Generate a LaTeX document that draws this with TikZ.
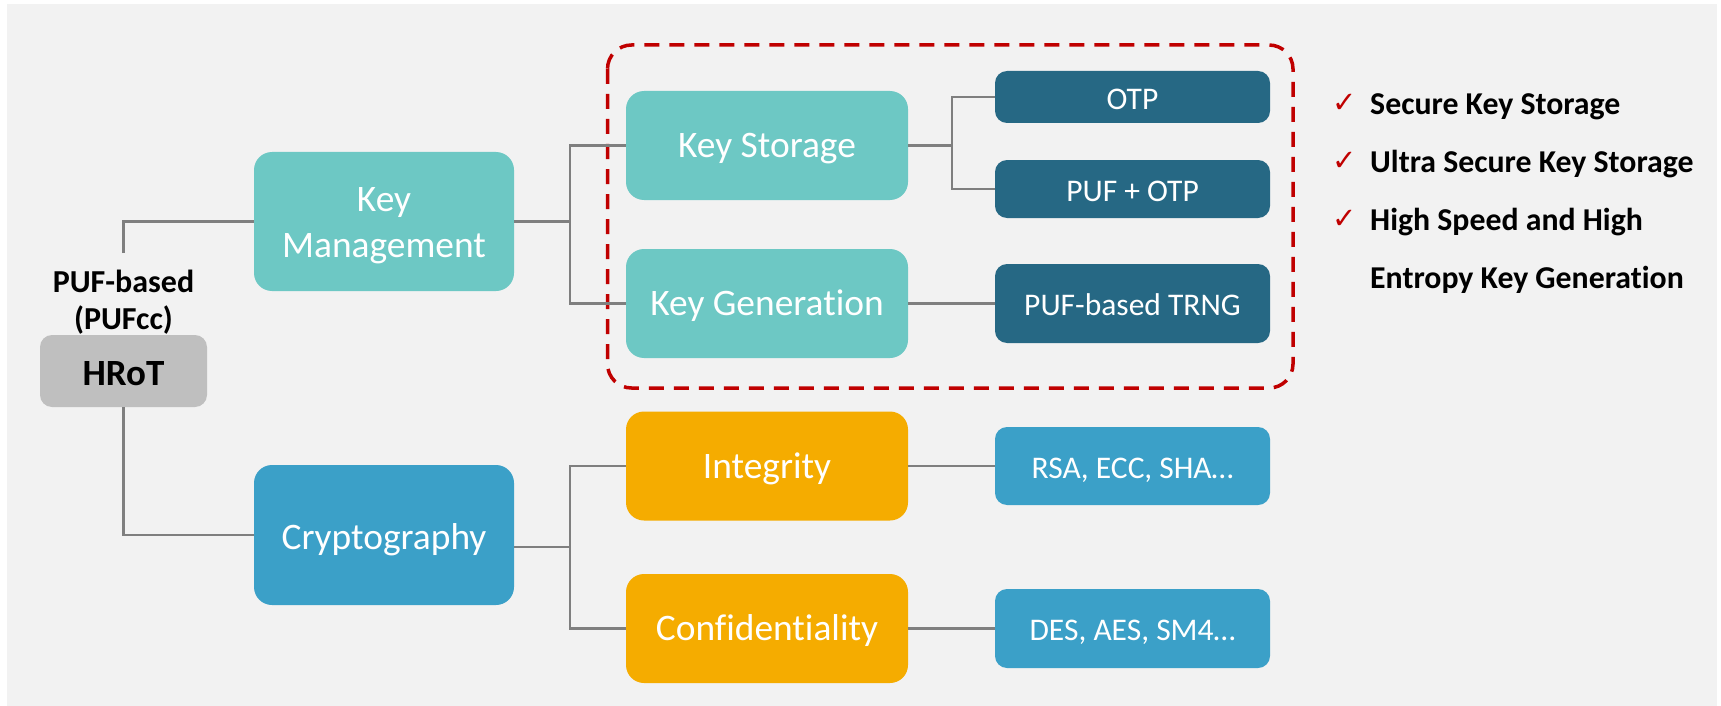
\documentclass[tikz,border=0pt]{standalone}
\usepackage{fontspec}
\setmainfont{Carlito}[Ligatures=NoCommon]
\newfontfamily\dejavu{DejaVu Sans}
\definecolor{bgc}{HTML}{F2F2F2}
\definecolor{linec}{HTML}{7F7F7F}
\definecolor{teal}{HTML}{6DC8C4}
\definecolor{blue}{HTML}{3BA0C8}
\definecolor{dark}{HTML}{266884}
\definecolor{amber}{HTML}{F5AC00}
\definecolor{greyb}{HTML}{BFBFBF}
\definecolor{redc}{HTML}{C00000}
\begin{document}
\begin{tikzpicture}[x=1pt,y=-1pt,
  bigbox/.style={rectangle, rounded corners=18pt, minimum width=282pt, minimum height=109pt, inner sep=0pt, text=white, align=center, font=\fontsize{37.4}{46}\selectfont, text height=28pt, text depth=3.6pt},
  smallbox/.style={rectangle, rounded corners=12pt, minimum width=275pt, inner sep=0pt, text=white, align=center, font=\fontsize{31.5}{38}\selectfont, text height=27pt, text depth=2.4pt},
  conn/.style={draw=linec, line width=2.5pt},
  dashframe/.style={draw=redc, line width=3.5pt, dash pattern=on 15pt off 10pt, rounded corners=24pt},
  item/.style={anchor=base west, inner sep=0pt, font=\bfseries\fontsize{31.8}{38}\selectfont},
  checkmk/.style={anchor=base west, inner sep=0pt, text=redc, font=\dejavu\fontsize{29}{32}\selectfont}
]
\useasboundingbox (0,0) rectangle (1721,706);
\fill[white] (0,0) rectangle (1721,706);
\fill[bgc] (7,4) rectangle (1717,706);

% dashed frame
\draw[dashframe] (607.5,45) rectangle (1293,388);

% root
\node[rectangle, rounded corners=12pt, fill=greyb, minimum width=167pt, minimum height=72pt, inner sep=0pt, font=\bfseries\fontsize{37}{44}\selectfont, text height=28pt, text depth=0pt] (hrot) at (123.5,371) {HRoT};
\node[align=center, inner sep=0pt, font=\bfseries\fontsize{32}{37}\selectfont] (puf) at (123.5,302) {PUF-based\\(PUFcc)};
\coordinate (pufTop) at (123.5,253);

% level 1
\node[bigbox, fill=teal, minimum width=260pt, minimum height=139pt, text height=82pt, text depth=10pt] (km) at (384,221.5) {Key\\Management};
\node[bigbox, fill=blue, minimum width=260pt, minimum height=140pt, text height=32pt] (crypto) at (384,535) {Cryptography};

% level 2
\node[bigbox, fill=teal] (ks) at (767,145.5) {Key Storage};
\node[bigbox, fill=teal] (kg) at (767,303.5) {Key Generation};
\node[bigbox, fill=amber] (integ) at (767,466) {Integrity};
\node[bigbox, fill=amber] (conf) at (767,628.5) {Confidentiality};

% level 3
\node[smallbox, fill=dark, minimum height=52pt] (otp) at (1132.5,97) {OTP};
\node[smallbox, fill=dark, minimum height=58pt] (pufotp) at (1132.5,189) {PUF + OTP};
\node[smallbox, fill=dark, minimum height=79pt] (trng) at (1132.5,303.5) {PUF-based TRNG};
\node[smallbox, fill=blue, minimum height=78pt] (rsa) at (1132.5,466) {RSA, ECC, SHA\dots};
\node[smallbox, fill=blue, minimum height=79pt] (des) at (1132.5,628.5) {DES, AES, SM4\dots};

% junctions
\coordinate (j1) at (570,221.5);
\coordinate (j2) at (570,547);
\coordinate (j3) at (952,145.5);

% connectors
\draw[conn] (pufTop) |- (km.west);
\draw[conn] (hrot.south) |- (crypto.west);
\draw[conn] (km.east) -- (j1);
\draw[conn] (ks.west) -| (j1);
\draw[conn] (kg.west) -| (j1);
\draw[conn] (crypto.east |- j2) -- (j2);
\draw[conn] (integ.west) -| (j2);
\draw[conn] (conf.west) -| (j2);
\draw[conn] (ks.east) -- (j3);
\draw[conn] (otp.west) -| (j3);
\draw[conn] (pufotp.west) -| (j3);
\draw[conn] (kg.east) -- (trng.west);
\draw[conn] (integ.east) -- (rsa.west);
\draw[conn] (conf.east) -- (des.west);

% checklist
\node[checkmk] (c1) at (1332,113) {✓};
\node[checkmk] (c2) at (1332,170) {✓};
\node[checkmk] (c3) at (1332,228) {✓};
\node[item] (t1) at (1370,115) {Secure Key Storage};
\node[item] (t2) at (1370,172) {Ultra Secure Key Storage};
\node[item] (t3) at (1370,230) {High Speed and High};
\node[item] (t4) at (1370,288) {Entropy Key Generation};
\end{tikzpicture}
\end{document}
